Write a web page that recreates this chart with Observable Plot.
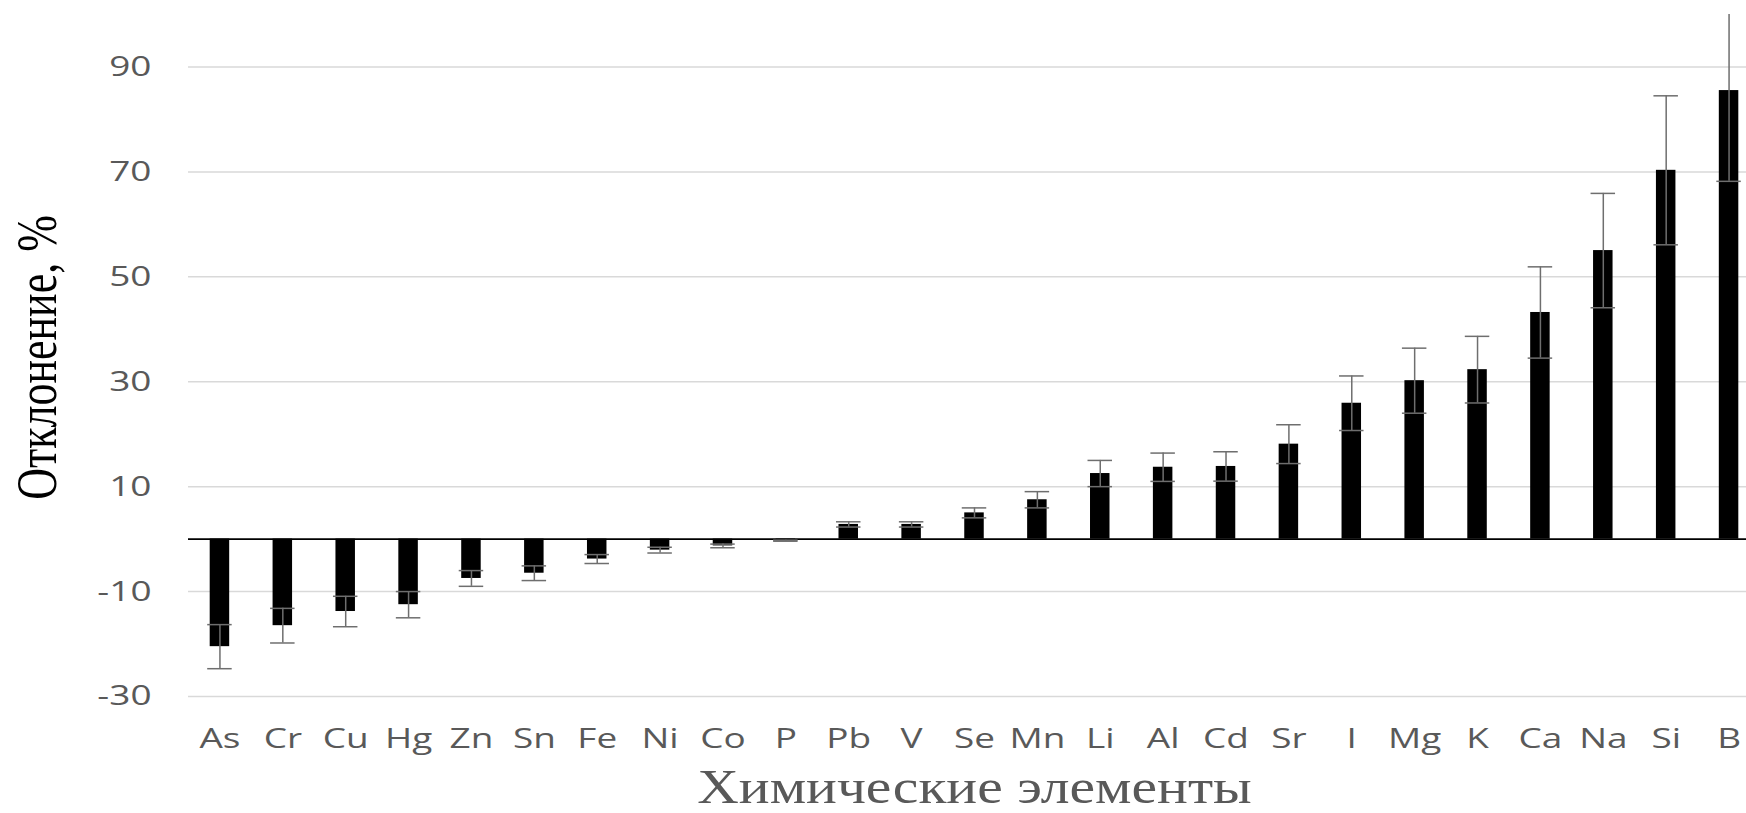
<!DOCTYPE html>
<html>
<head>
<meta charset="utf-8">
<script src="https://cdn.jsdelivr.net/npm/d3@7"></script>
<script src="https://cdn.jsdelivr.net/npm/@observablehq/plot@0.6"></script>
<style>
  html, body { margin: 0; padding: 0; background: #fff; overflow: hidden; }
  #chart svg { display: block; }
</style>
</head>
<body>
<div id="chart"></div>
<script>
const elements = ["As","Cr","Cu","Hg","Zn","Sn","Fe","Ni","Co","P","Pb","V","Se","Mn","Li","Al","Cd","Sr","I","Mg","K","Ca","Na","Si","B"];
const values   = [-20.5,-16.5,-13.8,-12.5,-7.5,-6.5,-3.8,-2.1,-1.3,-0.3,2.8,2.8,5.0,7.5,12.5,13.7,13.85,18.1,25.9,30.2,32.3,43.2,55.0,70.3,85.5];
const errors   = [4.2,3.3,2.9,2.5,1.5,1.4,0.85,0.55,0.35,0.1,0.5,0.5,0.95,1.55,2.5,2.7,2.8,3.7,5.2,6.2,6.35,8.7,10.9,14.2,17.3];
const yTicks = [90, 70, 50, 30, 10, -10, -30];
const yTitle = "Отклонение, %";
const xTitle = "Химические элементы";

const data = elements.map((el, i) => ({
  el,
  v: values[i],
  lo: values[i] - errors[i],
  hi: values[i] + errors[i]
}));

const errColor = "#6e6e6e";
const sans = "'Open Sans', 'DejaVu Sans', sans-serif";
const serif = "'Liberation Serif', 'DejaVu Serif', serif";

const plot = Plot.plot({
  width: 1746,
  height: 813,
  marginLeft: 188,
  marginRight: -14,
  marginTop: 14,
  marginBottom: 117,
  style: { background: "#fff", overflow: "hidden" },
  x: { domain: elements, paddingInner: 0.69, paddingOuter: 0.345, round: false },
  y: { domain: [-30, 100] },
  marks: [
    Plot.gridY(yTicks, { stroke: "#d9d9d9", strokeOpacity: 1, strokeWidth: 1.5 }),
    Plot.barY(data, { x: "el", y: "v", fill: "#000" }),
    Plot.ruleY([0], { stroke: "#000", strokeWidth: 1.6 }),
    Plot.ruleX(data, { x: "el", y1: "lo", y2: "hi", stroke: errColor, strokeWidth: 1.5, clip: true }),
    Plot.tickY(data, { x: "el", y: "hi", stroke: errColor, strokeWidth: 1.5, insetLeft: -2.5, insetRight: -2.5, clip: true }),
    Plot.tickY(data, { x: "el", y: "lo", stroke: errColor, strokeWidth: 1.5, insetLeft: -2.5, insetRight: -2.5, clip: true }),
    Plot.axisX({ tickSize: 0, tickPadding: 32, fontSize: 28, fontFamily: sans, color: "#595959", label: null }),
    Plot.axisY(yTicks, { tickSize: 0, tickPadding: 37, fontSize: 28, fontFamily: sans, color: "#595959", label: null, tickFormat: d => String(d) }),
    Plot.text([yTitle], { text: d => d, frameAnchor: "left", textAnchor: "middle", dx: -133, dy: 2, rotate: -90, lineAnchor: "bottom", fontSize: 44, fontFamily: serif, fill: "#000" }),
    Plot.text([xTitle], { text: d => d, frameAnchor: "bottom", textAnchor: "middle", dx: 0, dy: 106, lineAnchor: "bottom", fontSize: 48, fontFamily: serif, fill: "#595959" })
  ]
});

document.getElementById("chart").appendChild(plot);

// the reference is stretched horizontally: widen the glyphs around their anchors
function stretchEl(t, sx, sy) {
  const tr = t.getAttribute("transform");
  if (tr) t.setAttribute("transform", `${tr} scale(${sx},${sy})`);
}
plot.querySelectorAll('[aria-label="x-axis tick label"] text, [aria-label="y-axis tick label"] text')
  .forEach(t => stretchEl(t, 1.32, 1));
plot.querySelectorAll("text").forEach(t => {
  if (t.textContent === xTitle) stretchEl(t, 1.2, 1);
  if (t.textContent === yTitle) stretchEl(t, 1, 1.3);
});
</script>
</body>
</html>
